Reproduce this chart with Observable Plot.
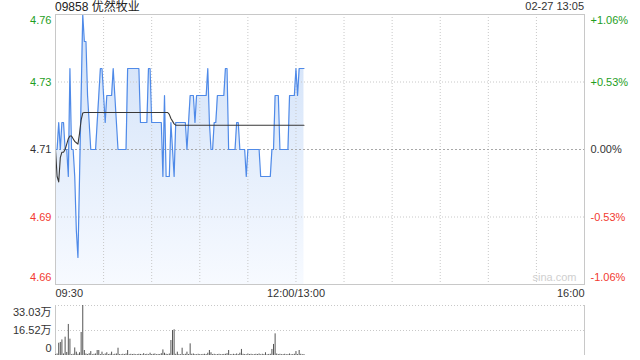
<!DOCTYPE html>
<html><head><meta charset="utf-8">
<script src="https://cdn.jsdelivr.net/npm/d3@7"></script>
<script src="https://cdn.jsdelivr.net/npm/@observablehq/plot@0.6"></script>
<style>
body{margin:0;background:#fff;}
#wrap{position:relative;width:640px;height:360px;overflow:hidden;font-family:"Liberation Sans",Arial,"Noto Sans CJK SC",sans-serif;}
#title{position:absolute;left:55px;top:0;font-size:12px;line-height:14px;color:#222;white-space:nowrap;}
#stamp{position:absolute;right:56px;top:0;font-size:11px;line-height:13px;color:#333;white-space:nowrap;}
#price{position:absolute;left:0;top:0;}
#vol{position:absolute;left:0;top:300px;}
</style></head>
<body>
<div id="wrap"><div id="price"></div><div id="vol"></div><div id="title">09858 优然牧业</div><div id="stamp">02-27 13:05</div></div>
<script>
// ---- data ----
const price = [
4.71,4.71,4.72,4.71,4.72,4.72,4.71,4.71,4.70,4.74,
4.71,4.71,4.70,4.68,4.67,4.70,4.73,4.76,4.75,4.75,
4.73,4.72,4.71,4.71,4.71,4.71,4.72,4.73,4.74,4.74,
4.73,4.72,4.73,4.73,4.73,4.73,4.74,4.73,4.72,4.71,
4.71,4.71,4.71,4.71,4.71,4.74,4.74,4.74,4.74,4.74,
4.74,4.74,4.74,4.72,4.72,4.72,4.72,4.72,4.74,4.74,
4.72,4.72,4.72,4.72,4.72,4.72,4.72,4.70,4.73,4.70,
4.70,4.70,4.72,4.71,4.70,4.72,4.72,4.72,4.72,4.72,
4.72,4.72,4.71,4.72,4.73,4.73,4.73,4.72,4.73,4.73,
4.73,4.73,4.73,4.73,4.73,4.74,4.72,4.71,4.71,4.72,
4.72,4.73,4.73,4.73,4.73,4.73,4.74,4.74,4.71,4.71,
4.71,4.71,4.71,4.72,4.72,4.71,4.71,4.71,4.71,4.70,
4.71,4.71,4.71,4.71,4.71,4.71,4.71,4.71,4.70,4.70,
4.70,4.70,4.70,4.70,4.70,4.71,4.71,4.73,4.73,4.73,
4.71,4.71,4.71,4.71,4.71,4.71,4.73,4.73,4.73,4.73,
4.74,4.73,4.74,4.74,4.74,4.74];
const avgPrice = [
4.710,4.700,4.698,4.707,4.709,4.709,4.710,4.712,4.714,4.715,
4.715,4.714,4.713,4.7125,4.712,4.716,4.721,4.7235,4.7237,4.7237,
4.7237,4.7237,4.7237,4.7237,4.7237,4.7237,4.7237,4.7237,4.7237,4.7237,
4.7237,4.7237,4.7237,4.7237,4.7237,4.7237,4.7237,4.7237,4.7237,4.7237,
4.7237,4.7237,4.7237,4.7237,4.7237,4.7237,4.7237,4.7237,4.7237,4.7237,
4.7237,4.7237,4.7237,4.7237,4.7237,4.7237,4.7237,4.7237,4.7237,4.7237,
4.7237,4.7237,4.7237,4.7237,4.7237,4.7237,4.7237,4.7237,4.7237,4.7237,
4.7237,4.7230,4.7215,4.7205,4.7195,4.719,4.719,4.719,4.719,4.719,
4.719,4.719,4.719,4.719,4.719,4.719,4.719,4.719,4.719,4.719,
4.719,4.719,4.719,4.719,4.719,4.719,4.719,4.719,4.719,4.719,
4.719,4.719,4.719,4.719,4.719,4.719,4.719,4.719,4.719,4.719,
4.719,4.719,4.719,4.719,4.719,4.719,4.719,4.719,4.719,4.719,
4.719,4.719,4.719,4.719,4.719,4.719,4.719,4.719,4.719,4.719,
4.719,4.719,4.719,4.719,4.719,4.719,4.719,4.719,4.719,4.719,
4.719,4.719,4.719,4.719,4.719,4.719,4.719,4.719,4.719,4.719,
4.719,4.719,4.719,4.719,4.719,4.719];
// volume in 万
const volume = [
0.5,1,8.1,8.6,10.3,1,12.1,2,20.5,10.8,
0.5,0.8,5,2.2,0.8,1.8,15.2,33.03,3.3,1,
0.6,1.2,2.6,0.5,0.8,1,3.3,3.3,0.6,2.2,
0.5,1,1.8,0.6,0.8,2.2,0.5,0.8,1,4.8,
0.6,0.5,0.8,0.6,1,3.3,0.5,0.8,0.6,0.8,
0.5,0.6,0.8,0.7,0.5,1.2,0.6,0.8,0.5,1.5,
0.6,0.8,1,0.5,0.7,0.6,1.2,3.7,1.5,0.8,
0.6,1,9.9,16.5,17,0.8,2.2,0.6,0.5,4.8,
0.6,0.8,2.2,0.6,7.7,0.8,1,0.6,0.5,0.8,
0.6,0.5,0.7,0.8,0.6,1.5,3.3,1.8,0.6,0.8,
0.5,0.6,0.8,0.5,0.6,0.7,0.8,1.2,3.3,0.6,
0.5,0.8,0.6,1,0.6,1.5,4,0.8,0.6,0.5,
1,0.6,0.8,0.5,0.6,0.8,0.6,1,0.5,0.8,
0.6,1.8,0.5,0.7,0.8,4,7.3,14.3,1,0.6,
0.8,0.5,0.6,0.8,0.5,0.6,1,0.5,0.6,0.8,
2.6,0.6,3.3,0.8,0.5,0.6];

const prevClose = 4.71;
const priceTicks = [4.76, 4.735, 4.71, 4.685, 4.66];
const priceTickLabels = ["4.76", "4.73", "4.71", "4.69", "4.66"];
const pctTickLabels = ["+1.06%", "+0.53%", "0.00%", "-0.53%", "-1.06%"];
const volTicks = [33.03, 16.52, 0];
const volTickLabels = ["33.03万", "16.52万", "0"];
const timeTicks = [0, 150, 330];           // minutes of trading since 09:30
const timeLabels = ["09:30", "12:00/13:00", "16:00"];
const gridMinutes = [30, 60, 90, 120, 150, 180, 210, 240, 270, 300];
const totalMinutes = 330;

// ---- styles ----
const GREEN = "#1e9e1e", RED = "#f23a30", NEUTRAL = "#333";
const FONT = '"Liberation Sans", Arial, "Noto Sans CJK SC", sans-serif';
const rows = price.map((p, i) => ({t: i, price: p, avg: avgPrice[i], vol: volume[i]}));
const tickColor = v => v > prevClose ? GREEN : v < prevClose ? RED : NEUTRAL;
const edgeDy = (i, n, top, bottom) => i === 0 ? top : i === n - 1 ? bottom : 0;

const priceTextMarks = priceTicks.flatMap((v, i) => {
  const dy = edgeDy(i, priceTicks.length, 6, -7);
  return [
    Plot.text([v], {x: 0, y: d => d, text: () => priceTickLabels[i], textAnchor: "end", dx: -4, dy, fill: tickColor(v), fontSize: 11}),
    Plot.text([v], {x: totalMinutes, y: d => d, text: () => pctTickLabels[i], textAnchor: "start", dx: 6, dy, fill: tickColor(v), fontSize: 11})
  ];
});

const timeTextMarks = timeTicks.map((t, i) =>
  Plot.text([t], {x: d => d, y: 4.66, text: () => timeLabels[i],
    textAnchor: i === 0 ? "start" : i === timeTicks.length - 1 ? "end" : "middle",
    dy: 9, fill: NEUTRAL, fontSize: 11}));

const priceChart = Plot.plot({
  width: 640, height: 300,
  marginTop: 14, marginBottom: 16, marginLeft: 55, marginRight: 56,
  x: {domain: [0, totalMinutes], axis: null},
  y: {domain: [4.66, 4.76], axis: null},
  style: {fontFamily: FONT, fontSize: "11px", background: "transparent", overflow: "visible"},
  marks: [
    Plot.areaY(rows, {x: "t", y1: 4.66, y2: "price", fill: "url(#pg)"}),
    Plot.ruleX(gridMinutes, {stroke: "#c8c8c8", strokeDasharray: "1,2"}),
    Plot.ruleY([4.735, 4.685], {stroke: "#c8c8c8", strokeDasharray: "1,2"}),
    Plot.ruleY([prevClose], {stroke: "#a8a8a8", strokeDasharray: "2,2"}),
    Plot.lineY(rows, {x: "t", y: "price", stroke: "#4f8ae8", strokeWidth: 1.2}),
    Plot.lineY(rows, {x: "t", y: "avg", stroke: "#383838", strokeWidth: 1.1}),
    Plot.frame({stroke: "#c8c8c8"}),
    Plot.text(["sina.com"], {x: totalMinutes, y: 4.66, text: d => d, textAnchor: "end", dx: -8, dy: -7, fill: "#cfcfcf", fontSize: 11}),
    ...priceTextMarks,
    ...timeTextMarks
  ]
});
const ns = "http://www.w3.org/2000/svg";
const defs = document.createElementNS(ns, "defs");
defs.innerHTML = '<linearGradient id="pg" gradientUnits="userSpaceOnUse" x1="0" y1="14" x2="0" y2="284">' +
  '<stop offset="0" stop-color="#cfe0f8"/><stop offset="1" stop-color="#f7faff"/></linearGradient>';
priceChart.insertBefore(defs, priceChart.firstChild);
document.getElementById("price").appendChild(priceChart);

const volTextMarks = volTicks.map((v, i) =>
  Plot.text([v], {x: 0, y: d => d, text: () => volTickLabels[i], textAnchor: "end", dx: -4,
    dy: edgeDy(i, volTicks.length, 7, -7), fill: NEUTRAL, fontSize: 11}));

const volChart = Plot.plot({
  width: 640, height: 60,
  marginTop: 5, marginBottom: 5, marginLeft: 55, marginRight: 56,
  x: {domain: [0, totalMinutes], axis: null},
  y: {domain: [0, 33.03], axis: null},
  style: {fontFamily: FONT, fontSize: "11px", background: "transparent", overflow: "visible"},
  marks: [
    Plot.ruleY([33.03, 16.52], {stroke: "#c8c8c8", strokeDasharray: "1,2"}),
    Plot.ruleX([0, totalMinutes], {stroke: "#c8c8c8"}),
    Plot.ruleX(rows, {x: "t", y1: 0, y2: "vol", stroke: "#555", strokeWidth: 1}),
    ...volTextMarks
  ]
});
document.getElementById("vol").appendChild(volChart);
</script>
</body></html>
